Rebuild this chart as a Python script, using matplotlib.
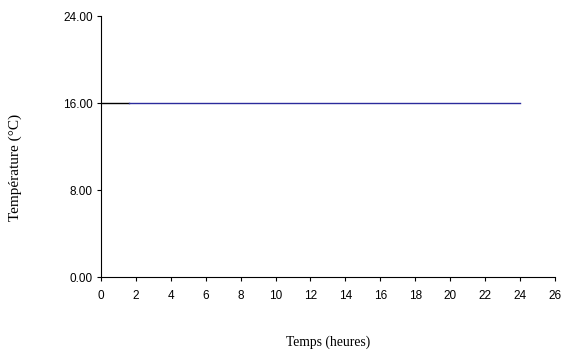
import numpy as np
import matplotlib.pyplot as plt

# heures / température
hours_init = [0, 1.6]
temp_init = [16.0, 16.0]
hours = [1.6, 4, 6, 8, 10, 12, 14, 16, 18, 20, 22, 24]
temp = [16.0] * len(hours)

xticks = list(range(0, 27, 2))
yticks = [0, 8, 16, 24]

fig = plt.figure(figsize=(5.65, 3.51), dpi=100)
ax = fig.add_axes([0.1788, 0.2108, 0.803, 0.7432])

ax.plot(hours_init, temp_init, color='black', lw=1.0)
ax.plot(hours, temp, color='#2b2b9c', lw=1.0)

ax.set_xlim(0, 26)
ax.set_ylim(0, 24)
ax.set_xticks(xticks)
ax.set_yticks(yticks)
ax.set_yticklabels([f"{v:.2f}" for v in yticks])
for lab in ax.get_xticklabels() + ax.get_yticklabels():
    lab.set_family('Liberation Sans')
    lab.set_fontsize(8.5)
ax.tick_params(axis='y', direction='out', length=3, width=0.8, pad=3)
ax.tick_params(axis='x', direction='out', length=3, width=0.8, pad=6)

ax.spines['top'].set_visible(False)
ax.spines['right'].set_visible(False)
ax.spines['left'].set_linewidth(0.8)
ax.spines['bottom'].set_linewidth(0.8)

fig.text(0.581, 0.016, 'Temps (heures)', family='Liberation Serif', fontsize=9.8,
         ha='center', va='baseline')
fig.text(0.027, 0.524, 'Température (°C)', family='Liberation Serif', fontsize=11,
         rotation=90, ha='center', va='center')

fig.savefig('out.png')
